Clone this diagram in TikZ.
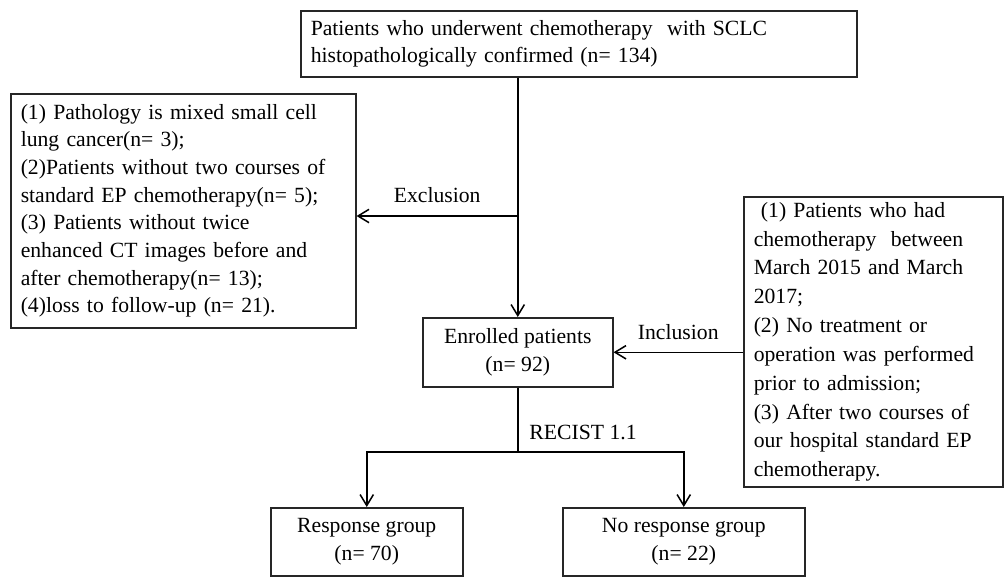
\documentclass[tikz,border=0pt]{standalone}
\usepackage{fontspec}
\setmainfont{Liberation Serif}
\usetikzlibrary{arrows.meta,positioning,calc}
\tikzset{
  box/.style={draw=black!85, line width=1.3pt, inner xsep=0.3cm, inner ysep=0pt,
    anchor=north west, font=\fontsize{18.5}{23.6}\selectfont},
  listbox/.style={box, align=left},
  groupbox/.style={box, align=center, minimum height=2.04cm},
  flow/.style={-{Straight Barb[length=3.3mm,width=4mm]}, line width=1.3pt},
  lbl/.style={font=\fontsize{18.5}{22}\selectfont},
}

\begin{document}
\begin{tikzpicture}[x=0.03cm, y=-0.03cm]
    \useasboundingbox (0,0) rectangle (1004,576);
    % --- boxes ---
    \node[listbox, text width=16.08cm, minimum height=1.98cm] (total) at (300,10)
      {Patients who underwent chemotherapy \ with SCLC\\histopathologically confirmed (n= 134)};
    \node[listbox, text width=9.75cm, minimum height=7.02cm] (excl) at (10,93)
      {(1) Pathology is mixed small cell\\lung cancer(n= 3);\\(2)Patients without two courses of\\
       standard EP chemotherapy(n= 5);\\(3) Patients without twice\\enhanced CT images before and\\
       after chemotherapy(n= 13);\\(4)loss to follow-up (n= 21).};
    \node[groupbox, minimum width=5.7cm, minimum height=2.07cm] (enrol) at (422,317)
      {Enrolled patients\\(n= 92)};
    \node[listbox, text width=7.17cm, minimum height=8.7cm, font=\fontsize{18.5}{24.6}\selectfont] (incl) at (743,196)
      {\ (1) Patients who had\\chemotherapy \ between\\March 2015 and March\\2017;\\(2) No treatment or\\
       operation was performed\\prior to admission;\\(3) After two courses of\\our hospital standard EP\\chemotherapy.};
    \node[groupbox, minimum width=5.76cm] (resp) at (270,507) {Response group\\(n= 70)};
    \node[groupbox, minimum width=7.26cm] (noresp) at (562,507) {No response group\\(n= 22)};
    % --- connectors ---
    \coordinate (split) at (enrol.north |- 0,216);
    \coordinate (fork) at (enrol.south |- 0,452);
    \draw[flow] (enrol.north |- total.south) -- (enrol.north);
    \draw[flow] (split) -- node[lbl, above=7pt]{Exclusion} (split -| excl.east);
    \draw[flow] (enrol.east -| incl.west) -- node[lbl, above=7pt]{Inclusion} (enrol.east);
    \draw[line width=1.3pt] (enrol.south) -- node[lbl, right=6pt, pos=0.7]{RECIST 1.1} (fork);
    \draw[flow] (fork) -| (resp.north);
    \draw[flow] (fork) -| (noresp.north);
\end{tikzpicture}
\end{document}
